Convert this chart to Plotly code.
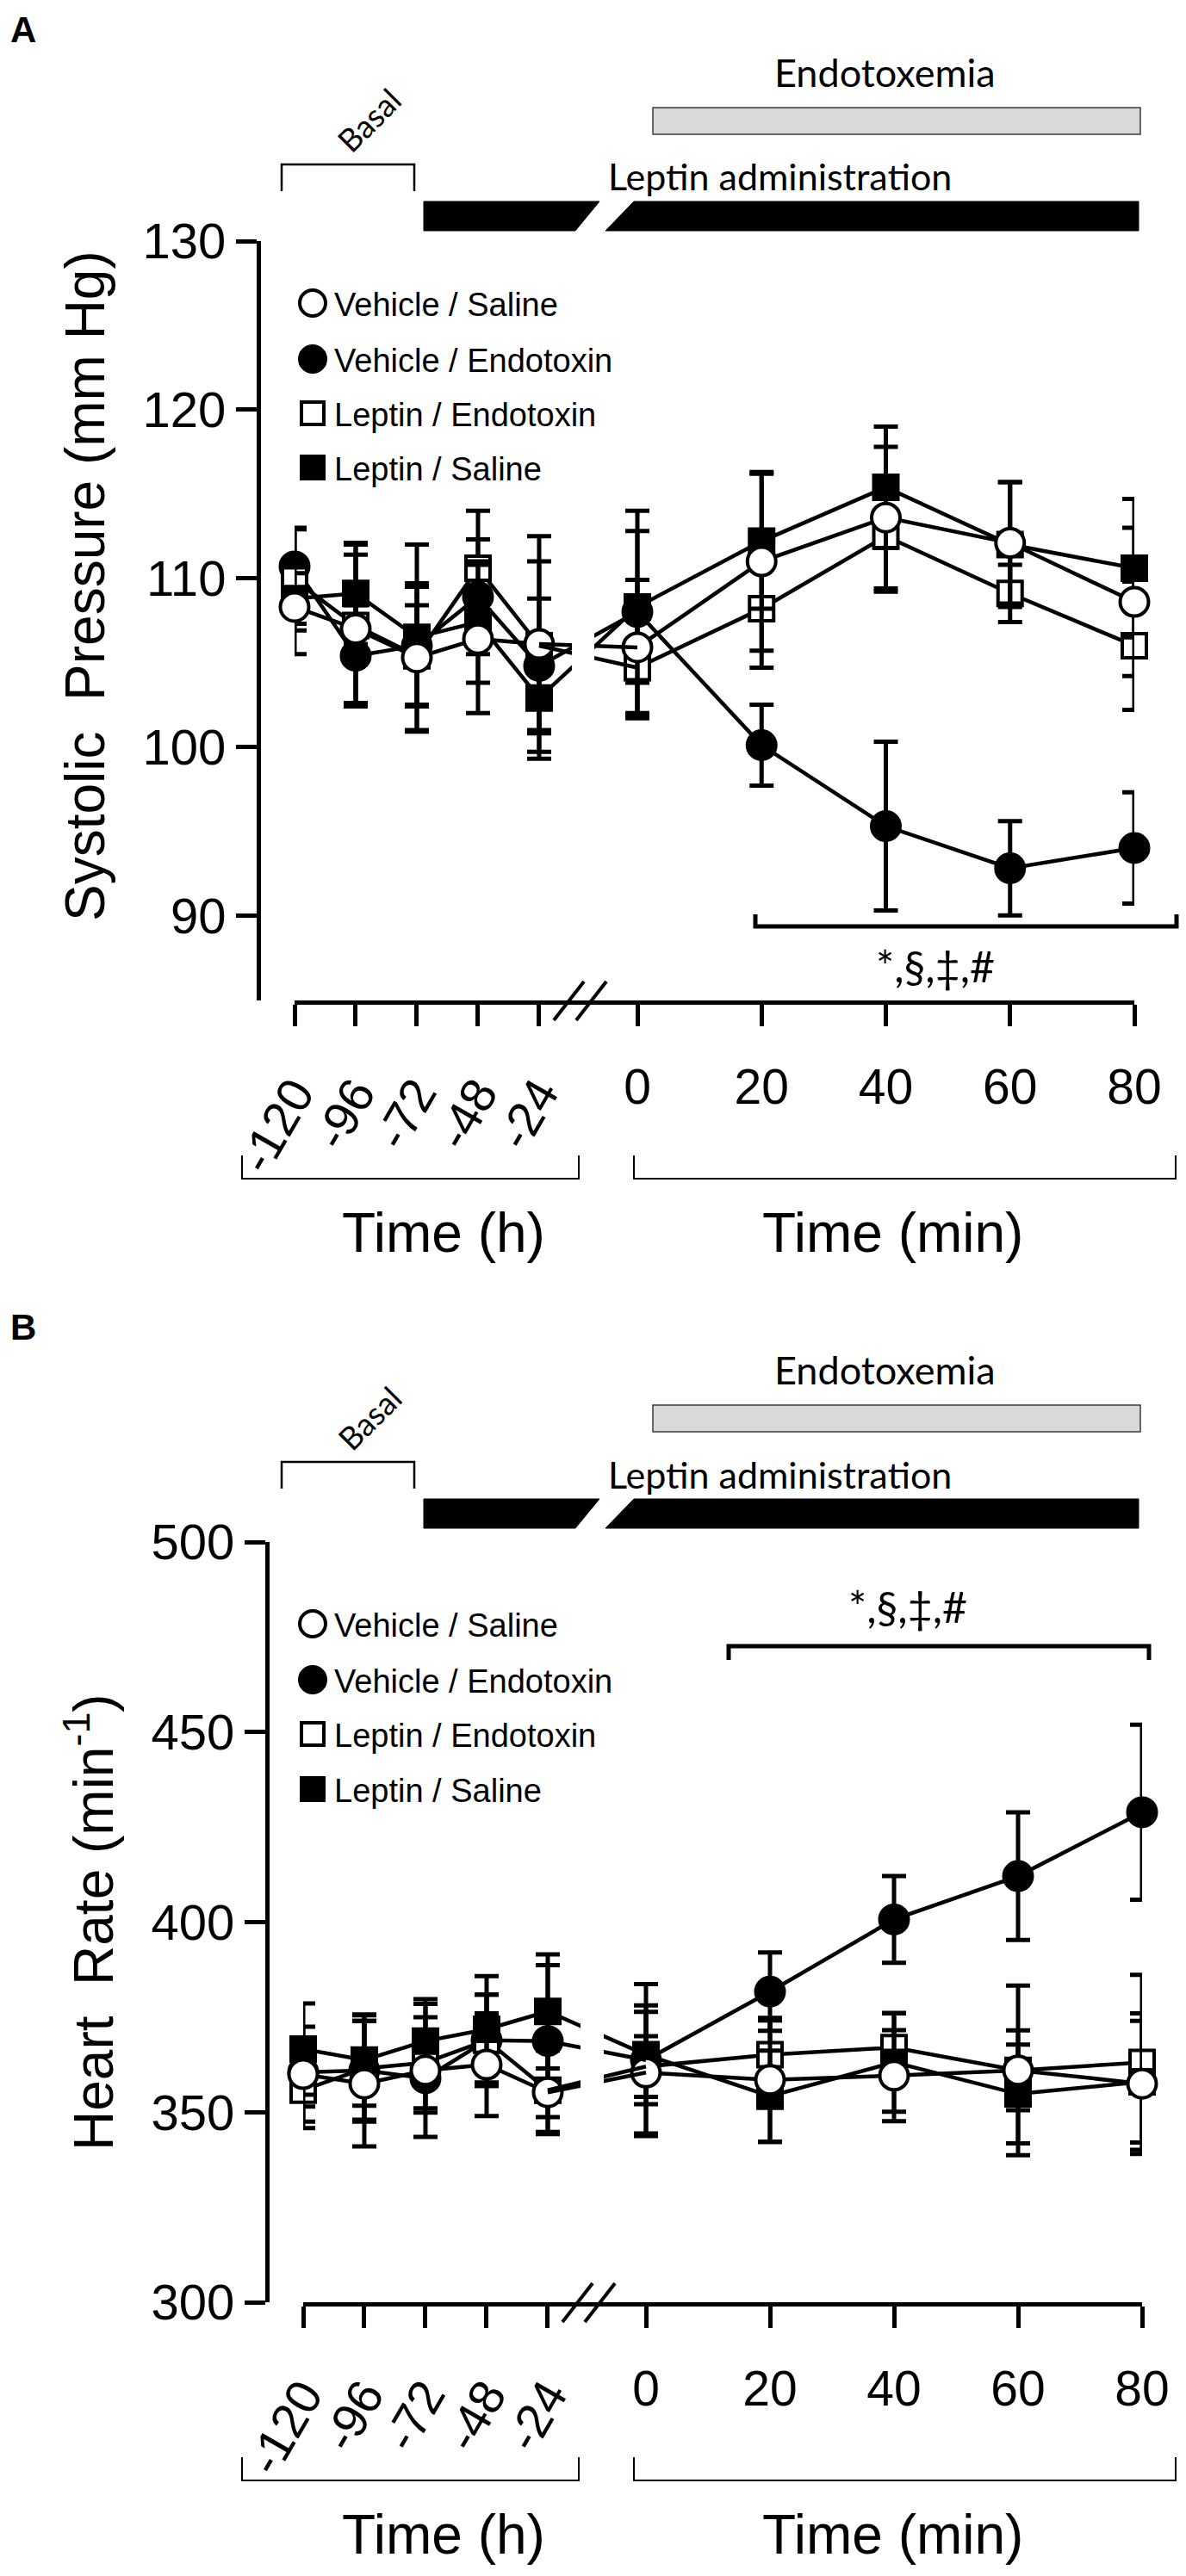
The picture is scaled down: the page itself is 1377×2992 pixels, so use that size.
import plotly.graph_objects as go

# ---------------- data ----------------
groups = ["Vehicle / Saline", "Vehicle / Endotoxin", "Leptin / Endotoxin", "Leptin / Saline"]
hours = [-120, -96, -72, -48, -24]
minutes = [0, 20, 40, 60, 80]

# systolic pressure (mm Hg), one row per group
sbp_basal = [
    [108.3, 107.0, 105.3, 106.4, 106.1],
    [110.7, 105.4, 106.0, 108.9, 104.8],
    [109.9, 107.2, 105.4, 110.6, 106.0],
    [108.8, 109.1, 106.5, 107.4, 102.9],
]
sbp_basal_sem = [
    [2.8, 4.4, 4.4, 4.4, 6.4],
    [2.3, 3.0, 3.5, 3.4, 4.0],
    [3.0, 4.8, 3.0, 3.4, 5.0],
    [1.5, 3.0, 5.5, 3.6, 3.6],
]
sbp_endo = [
    [105.9, 111.0, 113.6, 112.1, 108.6],
    [108.0, 100.1, 95.3, 92.8, 94.0],
    [104.7, 108.2, 112.5, 109.1, 106.0],
    [108.3, 112.2, 115.4, 112.0, 110.6],
]
sbp_endo_sem = [
    [4.0, 5.3, 4.2, 3.6, 4.4],
    [6.0, 2.4, 5.0, 2.8, 3.3],
    [3.0, 3.5, 3.3, 1.7, 3.8],
    [4.5, 4.0, 3.6, 3.7, 4.1],
]

# heart rate (min-1), one row per group
hr_basal = [
    [360.0, 357.5, 361.0, 362.5, 355.2],
    [360.5, 361.0, 358.9, 368.9, 368.7],
    [355.8, 361.5, 363.0, 368.9, 355.8],
    [366.6, 363.7, 368.7, 371.8, 376.5],
]
hr_basal_sem = [
    [12.5, 16.5, 17.5, 13.5, 11.0],
    [9.0, 13.0, 9.0, 12.0, 20.0],
    [10.0, 14.0, 12.0, 12.0, 11.0],
    [12.0, 12.0, 11.0, 14.0, 15.0],
]
hr_endo = [
    [360.4, 358.5, 359.6, 361.0, 357.5],
    [363.7, 381.7, 400.7, 412.1, 428.9],
    [362.0, 365.1, 367.0, 361.0, 363.1],
    [365.1, 354.2, 363.1, 354.8, 358.0],
]
hr_endo_sem = [
    [16.0, 16.3, 12.0, 22.3, 18.5],
    [20.0, 10.3, 11.4, 16.8, 23.0],
    [8.0, 9.0, 9.0, 10.5, 23.0],
    [13.0, 12.0, 13.0, 13.0, 16.0],
]

symbols = ["circle", "circle", "square", "square"]
fills = ["white", "black", "white", "black"]
draw_order = [1, 2, 3, 0]

# ---------------- page geometry (pixels of the 1377 x 2992 page) ----------------
W, H, OFF = 1361, 2976, 8
ARIAL = "Liberation Sans, Arial, sans-serif"
CALIBRI = "Lato, Carlito, Calibri, sans-serif"
HOUR_PX = 2.958


def fx(p):
    return (p - OFF) / W


def fy(p):
    return 1 - (p - OFF) / H


def path(pts, close=False):
    s = "M " + " L ".join(f"{fx(x):.5f},{fy(y):.5f}" for x, y in pts)
    return s + (" Z" if close else "")


panels = [
    dict(label="A", ya="y", xh="x", xm="x2", xc="x5",
         yrange=[84.96, 130], yticks=[90, 100, 110, 120, 130],
         y_top=280, y_bot=1162, y_pos=300, h0=342, split=676, m0=740, m80=1317,
         mask=(664, 690, 560, 1000),
         basal=sbp_basal, basal_sem=sbp_basal_sem, endo=sbp_endo, endo_sem=sbp_endo_sem,
         title="Systolic  Pressure (mm Hg)", title_xy=(99, 681), dy=0,
         legend_rows=[352, 417, 480, 543],
         sig_x=(877, 1366), sig_y=1076, sig_leg=-14, sig_text_y=1122),
    dict(label="B", ya="y2", xh="x3", xm="x4", xc="x6",
         yrange=[300, 500], yticks=[300, 350, 400, 450, 500],
         y_top=1791, y_bot=2674, y_pos=310, h0=352, split=686, m0=750, m80=1326,
         mask=(674, 701, 2250, 2520),
         basal=hr_basal, basal_sem=hr_basal_sem, endo=hr_endo, endo_sem=hr_endo_sem,
         title="Heart  Rate (min<sup>-1</sup>)", title_xy=(104, 2233), dy=1507,
         legend_rows=[1886, 1951, 2014, 2078],
         sig_x=(846, 1334), sig_y=1912, sig_leg=16, sig_text_y=1866),
]

fig = go.Figure()
shapes = []
annotations = []
layout_axes = {}


def axname(ref):
    return ref.replace("x", "xaxis").replace("y", "yaxis")


for p in panels:
    mppx = (p["m80"] - p["m0"]) / 80.0
    h_max = -120 + (p["split"] - p["h0"]) / HOUR_PX
    m_min = -(p["m0"] - p["split"]) / mppx

    def h2px(h, p=p):
        return p["h0"] + (h + 120) * HOUR_PX

    def m2px(m, p=p, mppx=mppx):
        return p["m0"] + m * mppx

    # lines bridging the axis break (cut by a white gap below)
    for g in draw_order:
        fig.add_trace(go.Scatter(
            x=[h2px(hours[-1]), m2px(minutes[0])],
            y=[p["basal"][g][-1], p["endo"][g][0]],
            xaxis=p["xc"], yaxis=p["ya"], mode="lines",
            line=dict(color="black", width=4.5), cliponaxis=False,
            showlegend=False, hoverinfo="skip"))

    for xs, xa, vals, sems in [(hours, p["xh"], p["basal"], p["basal_sem"]),
                               (minutes, p["xm"], p["endo"], p["endo_sem"])]:
        for g in draw_order:
            fig.add_trace(go.Scatter(
                x=xs, y=vals[g], xaxis=xa, yaxis=p["ya"], mode="lines+markers",
                name=groups[g], showlegend=False, cliponaxis=False,
                line=dict(color="black", width=4.5),
                marker=dict(symbol=symbols[g], size=33 if symbols[g] == "circle" else 28,
                            color=fills[g], line=dict(color="black", width=4)),
                error_y=dict(type="data", array=sems[g], visible=True,
                             color="black", thickness=5, width=14)))

    common_x = dict(anchor=p["ya"], showline=True, linewidth=5, linecolor="black",
                    ticks="outside", ticklen=25, tickwidth=5, tickcolor="black",
                    showgrid=False, zeroline=False, automargin=False,
                    ticklabelstandoff=22,
                    tickfont=dict(family=ARIAL, size=57, color="black"))
    layout_axes[axname(p["xh"])] = dict(
        common_x, domain=[fx(p["h0"]), fx(p["split"])], range=[-120, h_max],
        tickvals=hours, ticktext=[str(h) for h in hours], tickangle=-60)
    layout_axes[axname(p["xm"])] = dict(
        common_x, domain=[fx(p["split"]), fx(p["m80"])], range=[m_min, 80],
        tickvals=minutes, ticktext=[str(m) for m in minutes], tickangle=0)
    layout_axes[axname(p["xc"])] = dict(
        anchor=p["ya"], domain=[fx(p["h0"]), fx(p["m80"])], range=[p["h0"], p["m80"]],
        visible=False, showgrid=False, zeroline=False, automargin=False)
    layout_axes[axname(p["ya"])] = dict(
        domain=[fy(p["y_bot"]), fy(p["y_top"])], range=p["yrange"],
        anchor="free", position=fx(p["y_pos"]),
        showline=True, linewidth=5, linecolor="black",
        ticks="outside", ticklen=24, tickwidth=5, tickcolor="black",
        tickvals=p["yticks"], showgrid=False, zeroline=False, automargin=False,
        tickfont=dict(family=ARIAL, size=58, color="black"))

    dy = p["dy"]
    ax = p["y_bot"]

    # white gap through the bridging lines, and the // break marks
    m0x, m1x, m0y, m1y = p["mask"]
    shapes.append(dict(type="rect", xref="paper", yref="paper", layer="above",
                       x0=fx(m0x), x1=fx(m1x), y0=fy(m1y), y1=fy(m0y),
                       fillcolor="white", line=dict(width=0)))
    sx = p["split"] - 33
    for off in (0, 26):
        shapes.append(dict(type="path", xref="paper", yref="paper", layer="above",
                           path=path([(sx + off, ax + 23), (sx + off + 35, ax - 22)]),
                           line=dict(color="black", width=4)))

    # Endotoxemia bar
    shapes.append(dict(type="rect", xref="paper", yref="paper",
                       x0=fx(758), x1=fx(1324), y0=fy(156 + dy), y1=fy(125 + dy),
                       fillcolor="#d9d9d9", line=dict(color="#3a3a3a", width=1.5)))
    annotations.append(dict(text="Endotoxemia", x=fx(1027), y=fy(84 + dy),
                            font=dict(family=CALIBRI, size=45, color="black")))
    # Leptin administration bar with slanted break
    shapes.append(dict(type="path", xref="paper", yref="paper",
                       path=path([(492, 234 + dy), (696, 234 + dy), (668, 268 + dy), (492, 268 + dy)], True),
                       fillcolor="black", line=dict(color="black", width=1)))
    shapes.append(dict(type="path", xref="paper", yref="paper",
                       path=path([(736, 234 + dy), (1322, 234 + dy), (1322, 268 + dy), (703, 268 + dy)], True),
                       fillcolor="black", line=dict(color="black", width=1)))
    annotations.append(dict(text="Leptin administration", x=fx(905), y=fy(205 + dy),
                            font=dict(family=CALIBRI, size=43, color="black")))
    # Basal bracket
    shapes.append(dict(type="path", xref="paper", yref="paper",
                       path=path([(327, 222 + dy), (327, 191 + dy), (481, 191 + dy), (481, 222 + dy)]),
                       line=dict(color="black", width=2.5)))
    annotations.append(dict(text="Basal", x=fx(428), y=fy(140 + dy), textangle=-45,
                            font=dict(family=CALIBRI, size=37, color="black")))

    # significance bracket
    sx0, sx1 = p["sig_x"]
    sy, leg = p["sig_y"], p["sig_leg"]
    shapes.append(dict(type="path", xref="paper", yref="paper",
                       path=path([(sx0, sy + leg), (sx0, sy), (sx1, sy), (sx1, sy + leg)]),
                       line=dict(color="black", width=5)))
    annotations.append(dict(text="*,§,‡,#", x=fx((sx0 + sx1) / 2 - 36), y=fy(p["sig_text_y"]),
                            font=dict(family=CALIBRI, size=50, color="black")))

    # brackets and titles under the time axes
    by = ax + 207
    for bx0, bx1 in [(281, 672), (736, 1365)]:
        shapes.append(dict(type="path", xref="paper", yref="paper",
                           path=path([(bx0, by - 27), (bx0, by), (bx1, by), (bx1, by - 27)]),
                           line=dict(color="black", width=2)))
    annotations.append(dict(text="Time (h)", x=fx(515), y=fy(ax + 270),
                            font=dict(family=ARIAL, size=64, color="black")))
    annotations.append(dict(text="Time (min)", x=fx(1036), y=fy(ax + 270),
                            font=dict(family=ARIAL, size=64, color="black")))

    # y title and panel letter
    tx, ty = p["title_xy"]
    annotations.append(dict(text=p["title"], x=fx(tx), y=fy(ty), textangle=-90,
                            font=dict(family=ARIAL, size=64, color="black")))
    annotations.append(dict(text="<b>" + p["label"] + "</b>", x=fx(27), y=fy(34 + dy),
                            font=dict(family=ARIAL, size=42, color="black")))

    # legend
    for g, ry in zip(range(4), p["legend_rows"]):
        if symbols[g] == "circle":
            shapes.append(dict(type="circle", xref="paper", yref="paper", layer="above",
                               x0=fx(363 - 15), x1=fx(363 + 15), y0=fy(ry + 15), y1=fy(ry - 15),
                               fillcolor=fills[g], line=dict(color="black", width=4)))
        else:
            shapes.append(dict(type="rect", xref="paper", yref="paper", layer="above",
                               x0=fx(363 - 13), x1=fx(363 + 13), y0=fy(ry + 13), y1=fy(ry - 13),
                               fillcolor=fills[g], line=dict(color="black", width=4)))
        annotations.append(dict(text=groups[g], x=fx(386), y=fy(ry + 2), xanchor="left",
                                font=dict(family=ARIAL, size=38, color="black")))

for a in annotations:
    a.setdefault("xref", "paper")
    a.setdefault("yref", "paper")
    a.setdefault("showarrow", False)
    a.setdefault("xanchor", "center")
    a.setdefault("yanchor", "middle")

fig.update_layout(
    width=W, height=H, template="none",
    margin=dict(l=0, r=0, t=0, b=0),
    paper_bgcolor="white", plot_bgcolor="rgba(0,0,0,0)",
    showlegend=False, shapes=shapes, annotations=annotations,
    **layout_axes)

fig.write_html("out.html")
